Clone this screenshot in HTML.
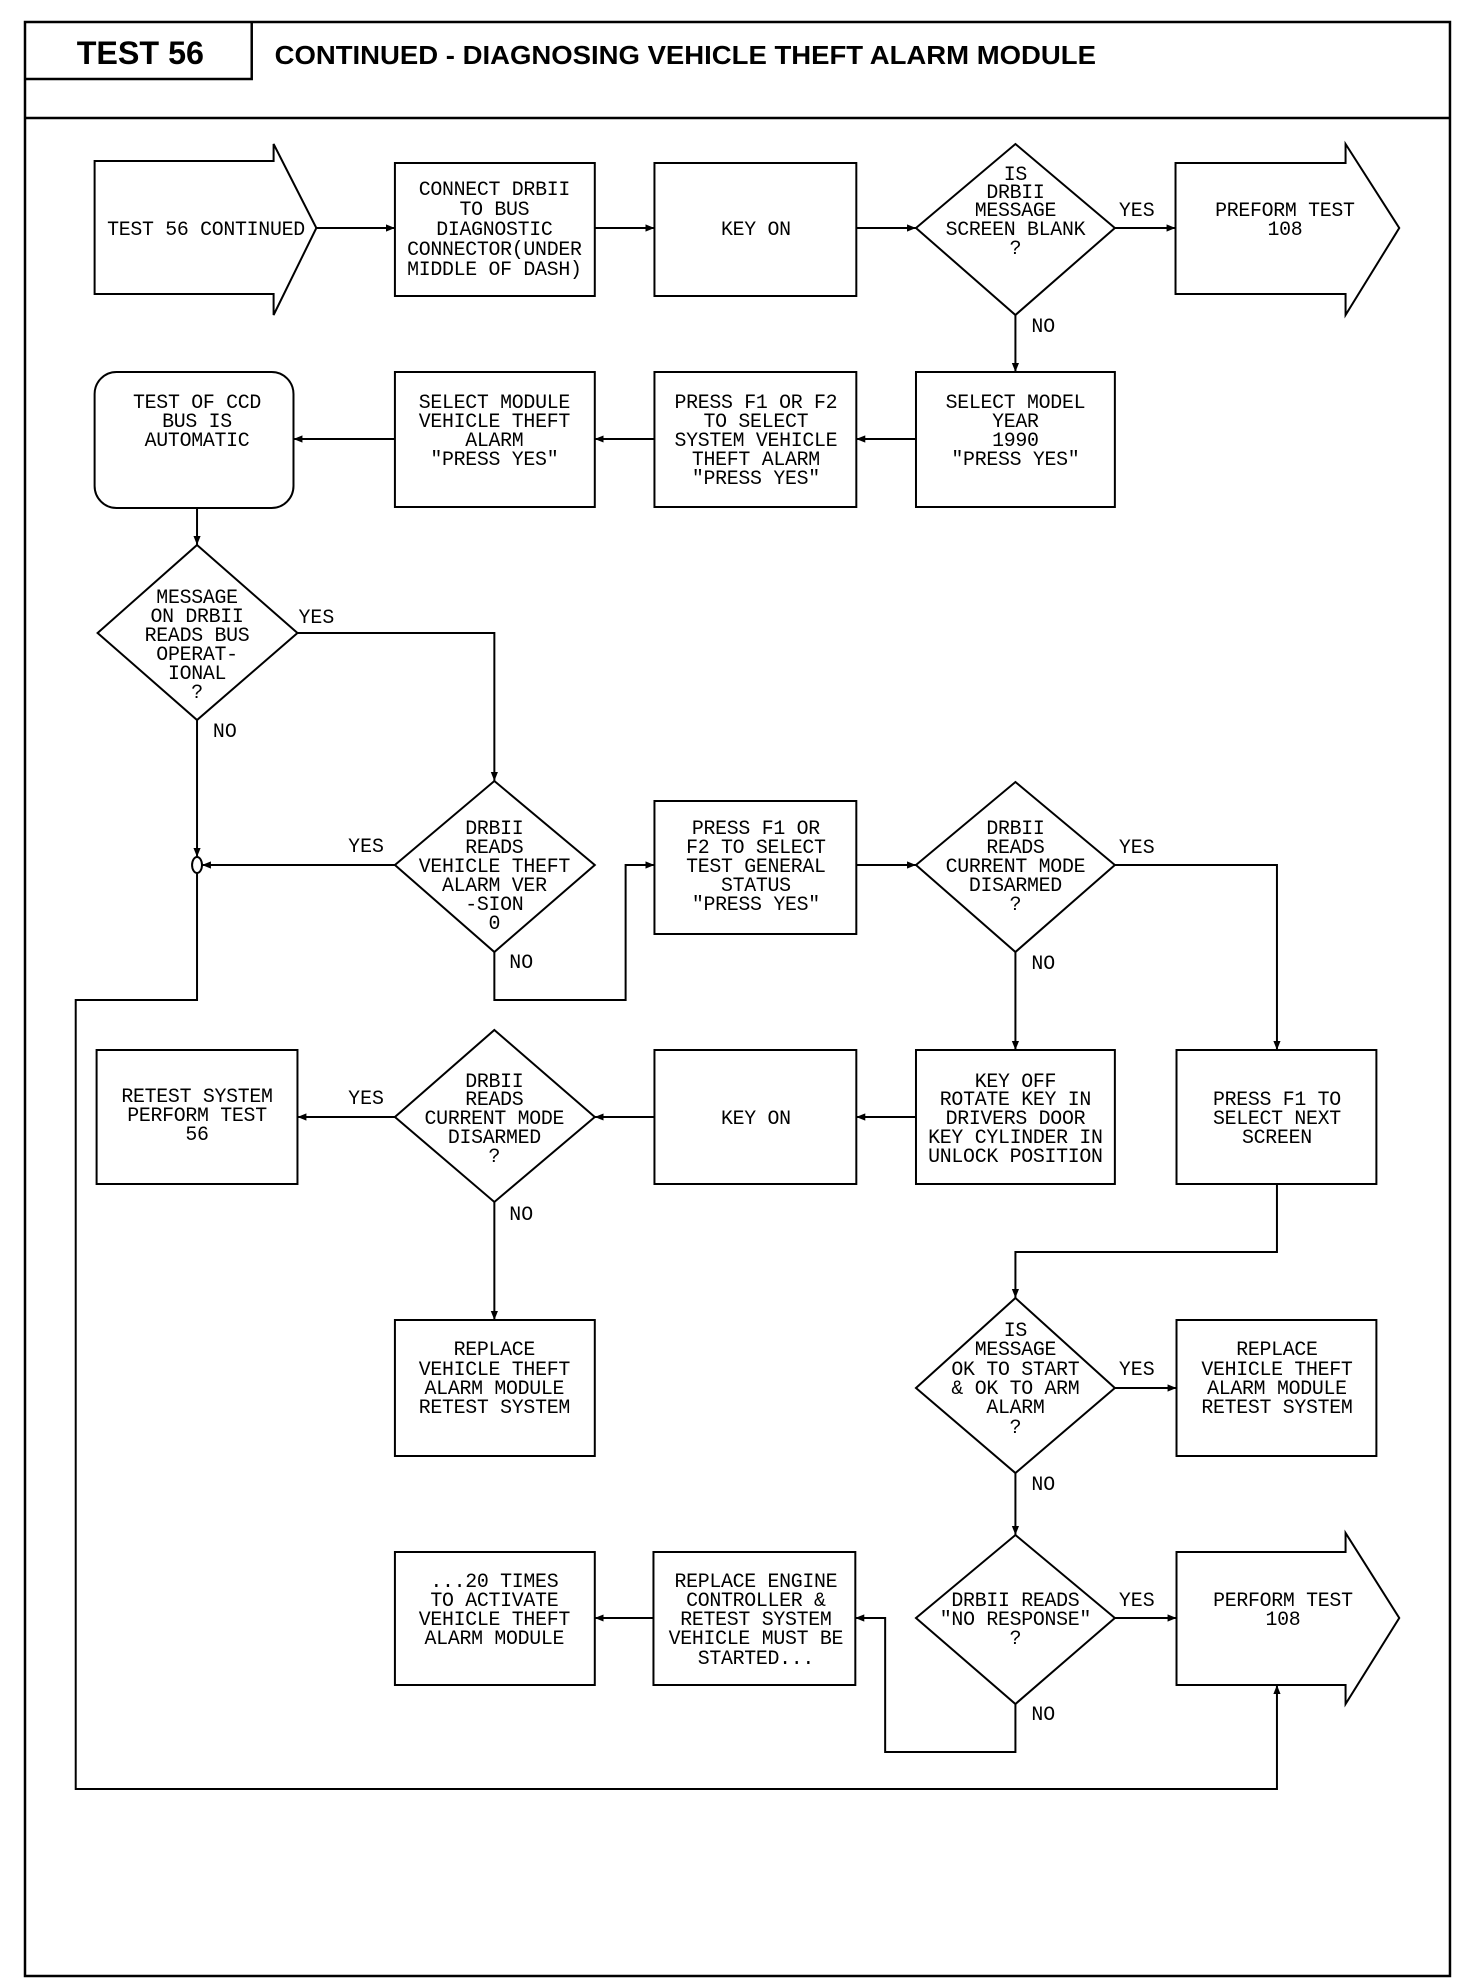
<!DOCTYPE html>
<html><head><meta charset="utf-8"><style>
html,body{margin:0;padding:0;background:#fff;}
svg{display:block;}
.t{font-family:"Liberation Mono",monospace;font-size:20px;letter-spacing:-0.3px;text-anchor:middle;fill:#000;}
.l{font-family:"Liberation Mono",monospace;font-size:20px;fill:#000;}
</style></head><body>
<svg width="1472" height="1988" viewBox="0 0 1472 1988" xmlns="http://www.w3.org/2000/svg">
<defs><marker id="a" viewBox="0 0 10 10" refX="10" refY="5" markerWidth="9" markerHeight="9" orient="auto" markerUnits="userSpaceOnUse"><path d="M0,1 L10,5 L0,9 z" fill="#000"/></marker></defs>
<g transform="translate(25,0) scale(0.9944,1) translate(-25,0)">
<g fill="none" stroke="#000" stroke-width="2.5">
<rect x="25" y="22" width="1433" height="1954"/>
<line x1="25" y1="118" x2="1458" y2="118"/>
<polyline points="25,79 253,79 253,22"/>
</g>
<text x="77" y="64" font-family="Liberation Sans,sans-serif" font-weight="bold" font-size="32" textLength="128" lengthAdjust="spacingAndGlyphs">TEST 56</text>
<text x="276" y="64" font-family="Liberation Sans,sans-serif" font-weight="bold" font-size="26" textLength="826" lengthAdjust="spacingAndGlyphs">CONTINUED - DIAGNOSING VEHICLE THEFT ALARM MODULE</text>

<g fill="none" stroke="#000" stroke-width="2">
<polygon points="95,161 275,161 275,144 318,228 275,315 275,294 95,294"/>
<rect x="397" y="163" width="201" height="133"/>
<rect x="658" y="163" width="203" height="133"/>
<polygon points="1021,144 1121,228 1021,315 921,228"/>
<polygon points="1182,163 1353,163 1353,144 1407,228 1353,315 1353,294 1182,294"/>
<rect x="95" y="372" width="200" height="136" rx="22"/>
<rect x="397" y="372" width="201" height="135"/>
<rect x="658" y="372" width="203" height="135"/>
<rect x="921" y="372" width="200" height="135"/>
<polygon points="198,545 299,633 198,720 98,633"/>
<polygon points="497,781 598,865 497,952 397,865"/>
<rect x="658" y="801" width="203" height="133"/>
<polygon points="1021,782 1121,865 1021,952 921,865"/>
<rect x="97" y="1050" width="202" height="134"/>
<polygon points="497,1030 598,1117 497,1202 397,1117"/>
<rect x="658" y="1050" width="203" height="134"/>
<rect x="921" y="1050" width="200" height="134"/>
<rect x="1183" y="1050" width="201" height="134"/>
<rect x="397" y="1320" width="201" height="136"/>
<polygon points="1021,1298 1121,1388 1021,1473 921,1388"/>
<rect x="1183" y="1320" width="201" height="136"/>
<rect x="397" y="1552" width="201" height="133"/>
<rect x="657" y="1552" width="203" height="133"/>
<polygon points="1021,1535 1121,1618 1021,1704 921,1618"/>
<polygon points="1183,1552 1353,1552 1353,1533 1407,1618 1353,1704 1353,1685 1183,1685"/>
<ellipse cx="198" cy="865" rx="5" ry="8"/>
</g>

<g fill="none" stroke="#000" stroke-width="2">
<line x1="318" y1="228" x2="397" y2="228" marker-end="url(#a)"/>
<line x1="598" y1="228" x2="658" y2="228" marker-end="url(#a)"/>
<line x1="861" y1="228" x2="921" y2="228" marker-end="url(#a)"/>
<line x1="1121" y1="228" x2="1182" y2="228" marker-end="url(#a)"/>
<line x1="1021" y1="315" x2="1021" y2="372" marker-end="url(#a)"/>
<line x1="921" y1="439" x2="861" y2="439" marker-end="url(#a)"/>
<line x1="658" y1="439" x2="598" y2="439" marker-end="url(#a)"/>
<line x1="397" y1="439" x2="295" y2="439" marker-end="url(#a)"/>
<line x1="198" y1="508" x2="198" y2="545" marker-end="url(#a)"/>
<polyline points="299,633 497,633 497,781" marker-end="url(#a)"/>
<line x1="198" y1="720" x2="198" y2="857" marker-end="url(#a)"/>
<line x1="397" y1="865" x2="203" y2="865" marker-end="url(#a)"/>
<polyline points="497,952 497,1000 629,1000 629,865 658,865" marker-end="url(#a)"/>
<line x1="861" y1="865" x2="921" y2="865" marker-end="url(#a)"/>
<polyline points="1121,865 1284,865 1284,1050" marker-end="url(#a)"/>
<line x1="1021" y1="952" x2="1021" y2="1050" marker-end="url(#a)"/>
<polyline points="198,873 198,1000 76,1000 76,1789 1284,1789 1284,1685" marker-end="url(#a)"/>
<line x1="921" y1="1117" x2="861" y2="1117" marker-end="url(#a)"/>
<line x1="658" y1="1117" x2="598" y2="1117" marker-end="url(#a)"/>
<line x1="397" y1="1117" x2="299" y2="1117" marker-end="url(#a)"/>
<line x1="497" y1="1202" x2="497" y2="1320" marker-end="url(#a)"/>
<polyline points="1284,1184 1284,1252 1021,1252 1021,1298" marker-end="url(#a)"/>
<line x1="1121" y1="1388" x2="1183" y2="1388" marker-end="url(#a)"/>
<line x1="1021" y1="1473" x2="1021" y2="1535" marker-end="url(#a)"/>
<line x1="1121" y1="1618" x2="1183" y2="1618" marker-end="url(#a)"/>
<polyline points="1021,1704 1021,1752 890,1752 890,1618 860,1618" marker-end="url(#a)"/>
<line x1="657" y1="1618" x2="598" y2="1618" marker-end="url(#a)"/>
</g>

<g class="t">
<text x="207" y="235">TEST 56 CONTINUED</text>
<text x="497" y="195">CONNECT DRBII</text><text x="497" y="215">TO BUS</text><text x="497" y="235">DIAGNOSTIC</text><text x="497" y="255">CONNECTOR(UNDER</text><text x="497" y="275">MIDDLE OF DASH)</text>
<text x="760" y="235">KEY ON</text>
<text x="1021" y="180">IS</text><text x="1021" y="198">DRBII</text><text x="1021" y="216">MESSAGE</text><text x="1021" y="235">SCREEN BLANK</text><text x="1021" y="254">?</text>
<text x="1292" y="216">PREFORM TEST</text><text x="1292" y="235">108</text>
<text x="198" y="408">TEST OF CCD</text><text x="198" y="427">BUS IS</text><text x="198" y="446">AUTOMATIC</text>
<text x="497" y="408">SELECT MODULE</text><text x="497" y="427">VEHICLE THEFT</text><text x="497" y="446">ALARM</text><text x="497" y="465">"PRESS YES"</text>
<text x="760" y="408">PRESS F1 OR F2</text><text x="760" y="427">TO SELECT</text><text x="760" y="446">SYSTEM VEHICLE</text><text x="760" y="465">THEFT ALARM</text><text x="760" y="484">"PRESS YES"</text>
<text x="1021" y="408">SELECT MODEL</text><text x="1021" y="427">YEAR</text><text x="1021" y="446">1990</text><text x="1021" y="465">"PRESS YES"</text>
<text x="198" y="603">MESSAGE</text><text x="198" y="622">ON DRBII</text><text x="198" y="641">READS BUS</text><text x="198" y="660">OPERAT-</text><text x="198" y="679">IONAL</text><text x="198" y="698">?</text>
<text x="497" y="834">DRBII</text><text x="497" y="853">READS</text><text x="497" y="872">VEHICLE THEFT</text><text x="497" y="891">ALARM VER</text><text x="497" y="910">-SION</text><text x="497" y="929">0</text>
<text x="760" y="834">PRESS F1 OR</text><text x="760" y="853">F2 TO SELECT</text><text x="760" y="872">TEST GENERAL</text><text x="760" y="891">STATUS</text><text x="760" y="910">"PRESS YES"</text>
<text x="1021" y="834">DRBII</text><text x="1021" y="853">READS</text><text x="1021" y="872">CURRENT MODE</text><text x="1021" y="891">DISARMED</text><text x="1021" y="910">?</text>
<text x="198" y="1102">RETEST SYSTEM</text><text x="198" y="1121">PERFORM TEST</text><text x="198" y="1140">56</text>
<text x="497" y="1087">DRBII</text><text x="497" y="1105">READS</text><text x="497" y="1124">CURRENT MODE</text><text x="497" y="1143">DISARMED</text><text x="497" y="1162">?</text>
<text x="760" y="1124">KEY ON</text>
<text x="1021" y="1087">KEY OFF</text><text x="1021" y="1105">ROTATE KEY IN</text><text x="1021" y="1124">DRIVERS DOOR</text><text x="1021" y="1143">KEY CYLINDER IN</text><text x="1021" y="1162">UNLOCK POSITION</text>
<text x="1284" y="1105">PRESS F1 TO</text><text x="1284" y="1124">SELECT NEXT</text><text x="1284" y="1143">SCREEN</text>
<text x="497" y="1355">REPLACE</text><text x="497" y="1375">VEHICLE THEFT</text><text x="497" y="1394">ALARM MODULE</text><text x="497" y="1413">RETEST SYSTEM</text>
<text x="1021" y="1336">IS</text><text x="1021" y="1355">MESSAGE</text><text x="1021" y="1375">OK TO START</text><text x="1021" y="1394">&amp; OK TO ARM</text><text x="1021" y="1413">ALARM</text><text x="1021" y="1433">?</text>
<text x="1284" y="1355">REPLACE</text><text x="1284" y="1375">VEHICLE THEFT</text><text x="1284" y="1394">ALARM MODULE</text><text x="1284" y="1413">RETEST SYSTEM</text>
<text x="497" y="1587">...20 TIMES</text><text x="497" y="1606">TO ACTIVATE</text><text x="497" y="1625">VEHICLE THEFT</text><text x="497" y="1644">ALARM MODULE</text>
<text x="760" y="1587">REPLACE ENGINE</text><text x="760" y="1606">CONTROLLER &amp;</text><text x="760" y="1625">RETEST SYSTEM</text><text x="760" y="1644">VEHICLE MUST BE</text><text x="760" y="1664">STARTED...</text>
<text x="1021" y="1606">DRBII READS</text><text x="1021" y="1625">"NO RESPONSE"</text><text x="1021" y="1644">?</text>
<text x="1290" y="1606">PERFORM TEST</text><text x="1290" y="1625">108</text>
</g>
<g class="l">
<text x="1125" y="216">YES</text><text x="1037" y="332">NO</text>
<text x="300" y="623">YES</text><text x="214" y="737">NO</text>
<text x="350" y="852">YES</text><text x="512" y="968">NO</text>
<text x="1125" y="853">YES</text><text x="1037" y="969">NO</text>
<text x="350" y="1104">YES</text><text x="512" y="1220">NO</text>
<text x="1125" y="1375">YES</text><text x="1037" y="1490">NO</text>
<text x="1125" y="1606">YES</text><text x="1037" y="1720">NO</text>
</g>
</g>
</svg>
</body></html>
